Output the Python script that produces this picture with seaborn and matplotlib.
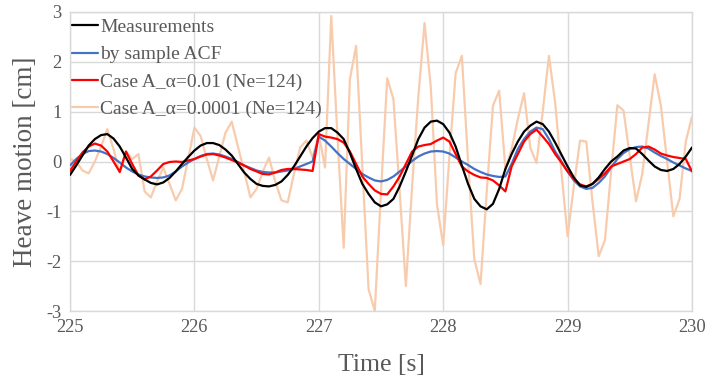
import numpy as np
import pandas as pd
import matplotlib
matplotlib.use("Agg")
import matplotlib.pyplot as plt
import seaborn as sns

# ---------------- data ----------------
t = [225.0 + 0.05 * k for k in range(101)]

measurements = [-0.27, -0.08, 0.12, 0.32, 0.45, 0.53, 0.55, 0.46, 0.30, 0.08,
                -0.15, -0.28, -0.36, -0.43, -0.46, -0.42, -0.33, -0.20, -0.05, 0.09,
                0.22, 0.32, 0.37, 0.37, 0.33, 0.24, 0.12, -0.05, -0.22, -0.35,
                -0.45, -0.49, -0.50, -0.47, -0.40, -0.27, -0.10, 0.10, 0.30, 0.47,
                0.60, 0.67, 0.67, 0.58, 0.45, 0.17, -0.15, -0.45, -0.65, -0.82,
                -0.90, -0.86, -0.75, -0.50, -0.20, 0.12, 0.45, 0.68, 0.80, 0.82,
                0.75, 0.58, 0.30, -0.08, -0.45, -0.75, -0.90, -0.96, -0.85, -0.55,
                -0.15, 0.15, 0.40, 0.60, 0.72, 0.80, 0.75, 0.60, 0.38, 0.14,
                -0.10, -0.32, -0.48, -0.51, -0.45, -0.32, -0.15, 0.00, 0.10, 0.22,
                0.27, 0.26, 0.15, 0.02, -0.10, -0.17, -0.19, -0.15, -0.05, 0.10,
                0.28]

acf = [-0.08, 0.05, 0.15, 0.21, 0.22, 0.20, 0.15, 0.07, -0.02, -0.12,
       -0.20, -0.26, -0.30, -0.32, -0.33, -0.32, -0.28, -0.20, -0.10, -0.02,
       0.05, 0.11, 0.15, 0.16, 0.14, 0.10, 0.05, -0.01, -0.08, -0.13,
       -0.18, -0.21, -0.22, -0.22, -0.20, -0.18, -0.15, -0.10, -0.05, 0.00,
       0.50, 0.42, 0.30, 0.17, 0.05, -0.05, -0.15, -0.25, -0.32, -0.38,
       -0.40, -0.37, -0.30, -0.20, -0.10, 0.01, 0.10, 0.16, 0.20, 0.21,
       0.20, 0.16, 0.08, 0.00, -0.07, -0.15, -0.21, -0.26, -0.29, -0.31,
       -0.30, -0.05, 0.25, 0.45, 0.60, 0.68, 0.65, 0.45, 0.20, 0.00,
       -0.20, -0.38, -0.50, -0.55, -0.53, -0.43, -0.30, -0.12, 0.05, 0.17,
       0.25, 0.29, 0.30, 0.26, 0.18, 0.11, 0.05, -0.02, -0.08, -0.14,
       -0.19]

case_a_001 = [-0.19, 0.00, 0.18, 0.30, 0.36, 0.32, 0.20, 0.00, -0.21, 0.20,
              -0.05, -0.28, -0.36, -0.30, -0.18, -0.05, -0.01, 0.00, -0.01, 0.02,
              0.05, 0.10, 0.14, 0.15, 0.12, 0.08, 0.03, -0.02, -0.08, -0.15,
              -0.20, -0.25, -0.26, -0.22, -0.17, -0.15, -0.15, -0.16, -0.17, -0.19,
              0.55, 0.50, 0.48, 0.45, 0.38, 0.20, -0.05, -0.30, -0.45, -0.58,
              -0.65, -0.66, -0.50, -0.30, -0.05, 0.20, 0.30, 0.33, 0.35, 0.42,
              0.48, 0.40, 0.15, -0.10, -0.20, -0.27, -0.32, -0.33, -0.38, -0.48,
              -0.60, -0.10, 0.15, 0.40, 0.55, 0.64, 0.50, 0.35, 0.15, -0.02,
              -0.20, -0.35, -0.46, -0.50, -0.45, -0.35, -0.24, -0.10, -0.05, 0.00,
              0.05, 0.15, 0.28, 0.30, 0.24, 0.16, 0.12, 0.09, 0.07, 0.05,
              -0.20]

case_a_00001 = [0.05, 0.00, -0.18, -0.24, 0.00, 0.30, 0.65, 0.25, -0.22, 0.20,
                0.05, 0.15, -0.60, -0.72, -0.40, -0.12, -0.45, -0.78, -0.55, 0.05,
                0.68, 0.51, 0.05, -0.38, 0.10, 0.58, 0.80, 0.30, -0.20, -0.72,
                -0.55, -0.20, 0.08, -0.40, -0.78, -0.82, -0.25, 0.28, 0.42, 0.08,
                0.55, -0.12, 2.92, 0.50, -1.73, 1.65, 2.32, -0.10, -2.56, -3.00,
                -0.60, 1.67, 1.25, -0.60, -2.50, -0.50, 1.30, 2.78, 1.50, -0.86,
                -1.68, 0.10, 1.77, 2.12, 0.00, -1.96, -2.46, -0.60, 1.12, 1.42,
                -0.15, 0.25, 0.85, 1.37, 0.28, -0.03, 1.00, 2.12, 1.18, -0.20,
                -1.50, -0.50, 0.42, 0.40, -0.80, -1.90, -1.58, -0.20, 1.13, 1.02,
                0.10, -0.80, -0.25, 0.75, 1.75, 1.12, 0.00, -1.10, -0.75, 0.40,
                0.90]

labels = ["Measurements", "by sample ACF",
          "Case A_\u03b1=0.01 (Ne=124)", "Case A_\u03b1=0.0001 (Ne=124)"]
colors = ["#000000", "#4472C4", "#FF0000", "#F8CBAD"]
x_ticks = [225, 226, 227, 228, 229, 230]
y_ticks = [-3, -2, -1, 0, 1, 2, 3]

# ---------------- plot ----------------
sns.set_theme(style="white")
plt.rcParams["font.family"] = ["Liberation Serif", "DejaVu Serif"]

fig = plt.figure(figsize=(7.07, 3.83), dpi=100)
ax = fig.add_axes([70 / 707, 1 - 311 / 383, (692 - 70) / 707, (311 - 12) / 383])

series = [measurements, acf, case_a_001, case_a_00001]
order = [3, 1, 2, 0]  # light orange at the back, measurements on top
for z, i in enumerate(order):
    df = pd.DataFrame({"t": t, "v": series[i]})
    sns.lineplot(data=df, x="t", y="v", ax=ax, color=colors[i], linewidth=1.6,
                 estimator=None, sort=False, label=labels[i], zorder=3 + z)

ax.set_xlim(225, 230)
ax.set_ylim(-3, 3)
ax.set_xticks(x_ticks)
ax.set_yticks(y_ticks)
ax.set_xticklabels([str(v) for v in x_ticks])
ax.set_yticklabels([str(v) for v in y_ticks])
ax.grid(True, color="#D9D9D9", linewidth=1.0)
ax.set_axisbelow(True)
for s in ax.spines.values():
    s.set_color("#D9D9D9")
    s.set_linewidth(1.0)
ax.tick_params(axis="both", length=0, labelsize=13.3, colors="#595959", pad=6)
ax.set_xlabel("Time [s]", fontsize=18.5, color="#595959", labelpad=13)
ax.set_ylabel("Heave motion [cm]", fontsize=19.5, color="#595959", labelpad=6)

h, l = ax.get_legend_handles_labels()
hm = dict(zip(l, h))
ax.legend([hm[lb] for lb in labels], labels, loc="upper left", frameon=False,
          bbox_to_anchor=(0.0, 0.985), fontsize=14, handlelength=1.35,
          handletextpad=0.1, labelspacing=0.5, borderaxespad=0.1, borderpad=0.0,
          labelcolor="#595959")

fig.savefig("out.png", dpi=100)
